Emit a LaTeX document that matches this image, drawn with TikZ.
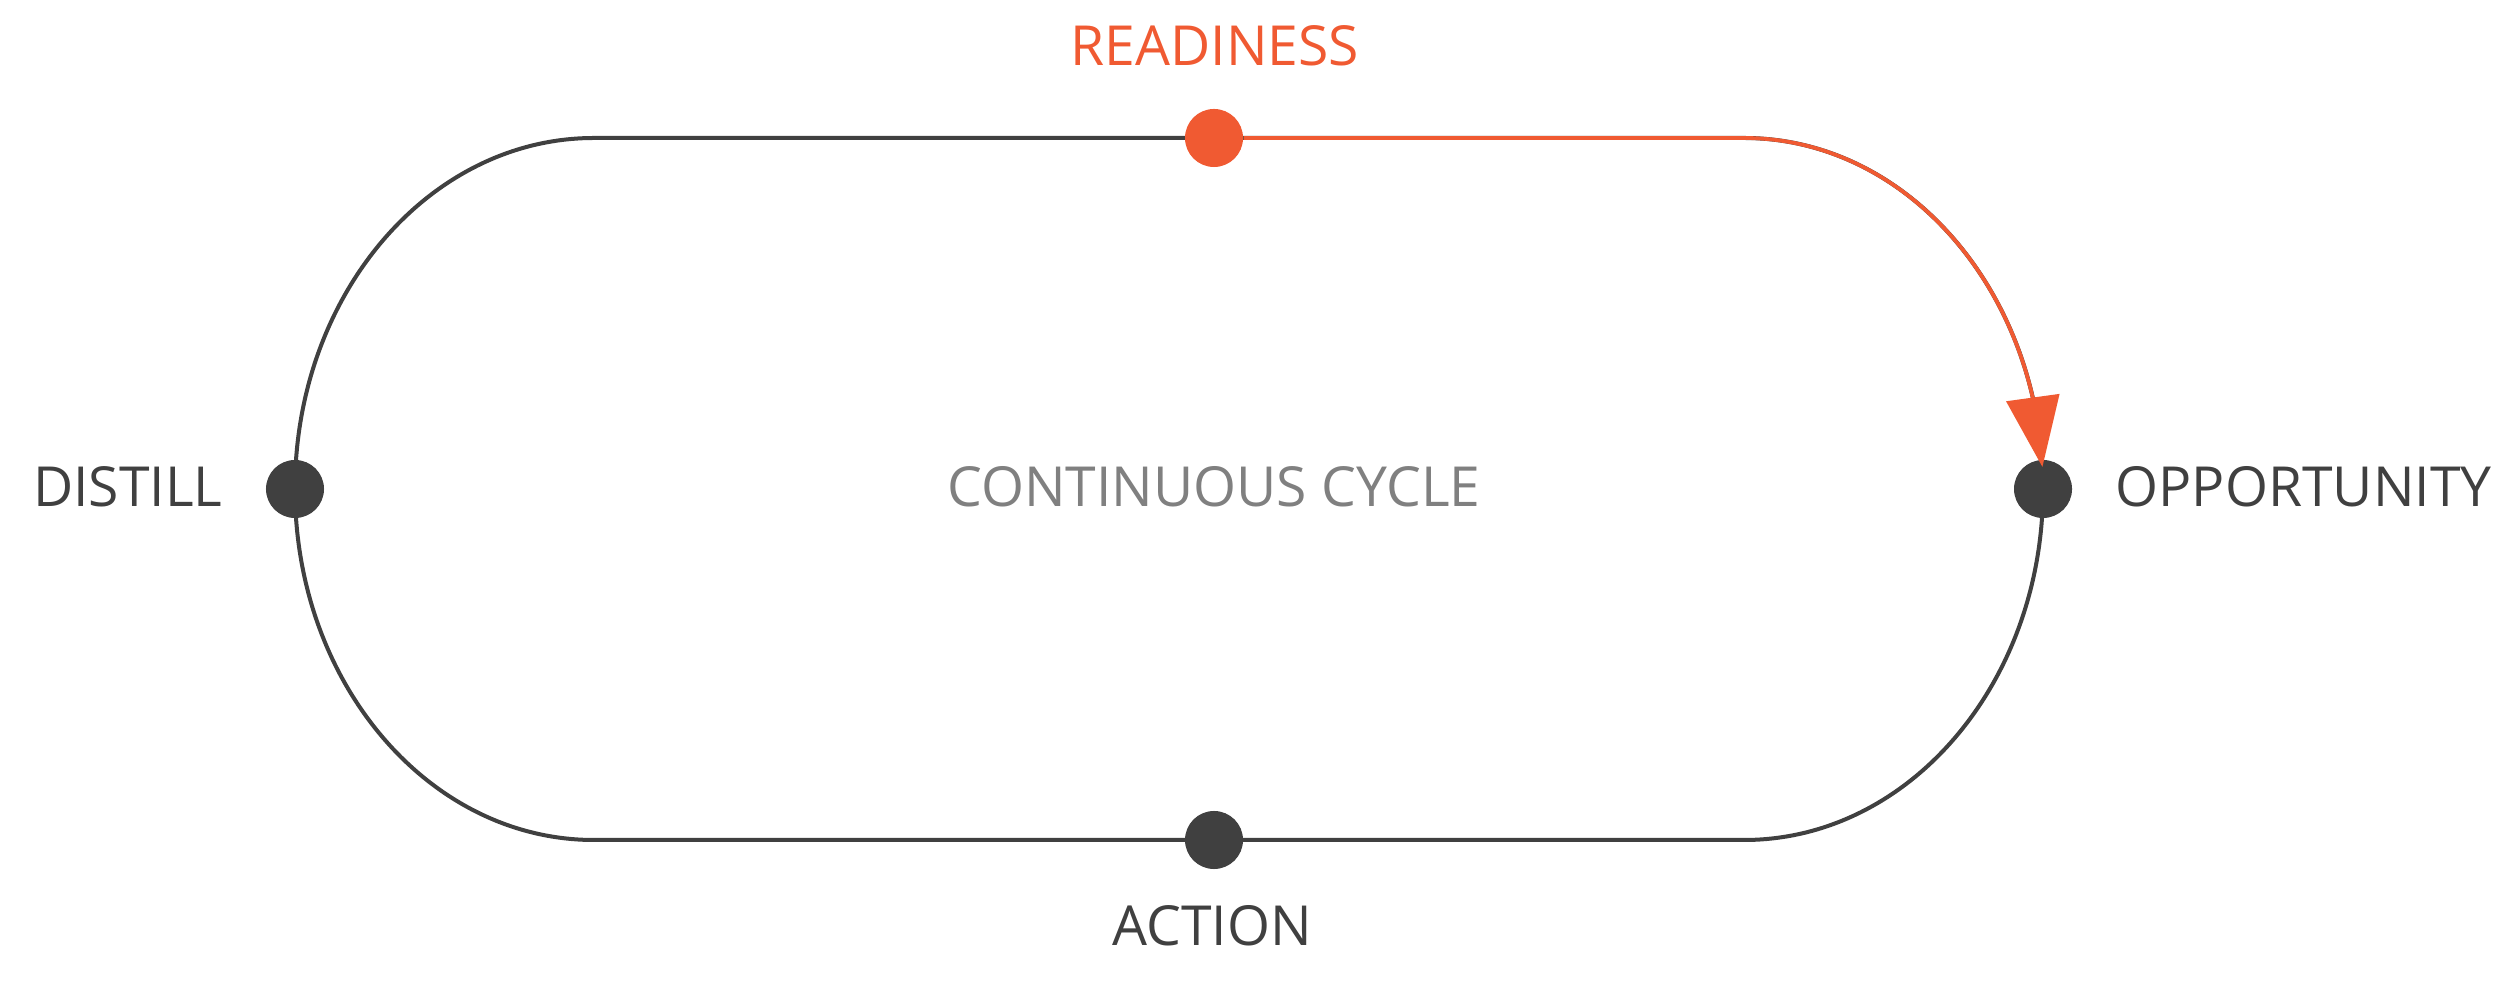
\documentclass[tikz,border=0pt]{standalone}
\usepackage{fontspec}
\setmainfont{Open Sans}
\usetikzlibrary{arrows.meta,bending}
\definecolor{accent}{HTML}{F05A32}
\definecolor{ink}{HTML}{404040}
\definecolor{soft}{HTML}{808080}
\begin{document}
\begin{tikzpicture}[x=0.01cm,y=0.01cm,
  track/.style={draw=ink,line width=0.04cm},
  dot/.style={circle,fill=ink,inner sep=0pt,minimum size=0.58cm},
  hotdot/.style={dot,fill=accent},
  lbl/.style={inner sep=0pt,text=ink,font=\fontsize{15.7}{18}\selectfont},
  flow/.style={draw=accent,line width=0.038cm,-{Triangle[length=0.7cm,width=0.53cm]}}]
\useasboundingbox (0,0) rectangle (2500,991);
% positions
\coordinate (pR) at (1214,853);
\coordinate (pA) at (1214,151);
\coordinate (pD) at (295,502);
\coordinate (pO) at (2043,502);
% track
\draw[track] (pD) arc[start angle=180,end angle=90,x radius=299,y radius=351]
  -- (pR) -- (1744,853)
  arc[start angle=90,end angle=-90,x radius=299,y radius=351]
  -- (pA) -- (594,151)
  arc[start angle=270,end angle=180,x radius=299,y radius=351] -- cycle;
% dots
\node[hotdot] (readiness) at (pR) {};
\node[dot] (action) at (pA) {};
\node[dot] (distill) at (pD) {};
\node[dot] (opportunity) at (pO) {};
% arrow
\draw[flow] (readiness) -- (1744,853)
  arc[start angle=90,end angle=3.6,x radius=299,y radius=351];
% labels
\node[lbl,text=accent,anchor=base] (tR) at (1215,925) {READINESS};
\node[lbl,anchor=base] (tA) at (1212,45) {ACTION};
\node[lbl,anchor=base east] (tD) at (223,484) {DISTILL};
\node[lbl,anchor=base west] (tO) at (2115,484) {OPPORTUNITY};
\node[lbl,text=soft,anchor=base] (tC) at (1214,484) {CONTINUOUS CYCLE};
\end{tikzpicture}
\end{document}
